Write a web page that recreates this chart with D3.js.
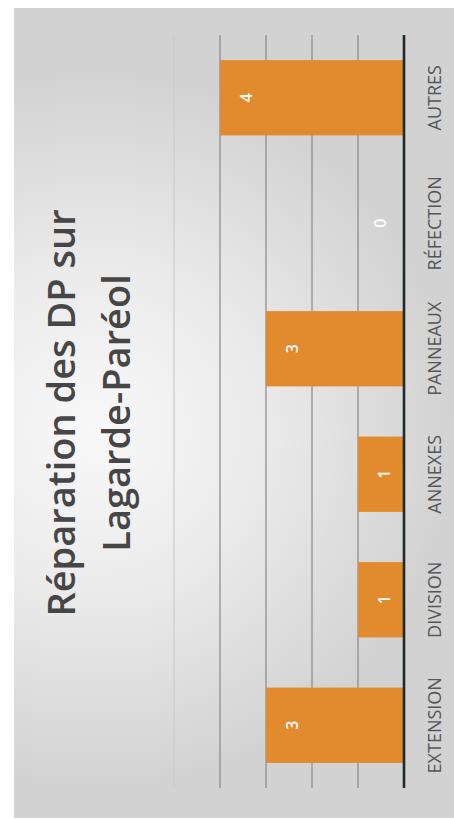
<!DOCTYPE html>
<html>
<head>
<meta charset="utf-8">
<script src="https://cdn.jsdelivr.net/npm/d3@7"></script>
<style>
  html, body { margin: 0; padding: 0; background: #ffffff; }
  svg { display: block; }
</style>
</head>
<body>
<svg id="chart" width="454" height="821"></svg>
<script>
// Déclarations préalables par catégorie de travaux
const categories = ["EXTENSION", "DIVISION", "ANNEXES", "PANNEAUX", "RÉFECTION", "AUTRES"];
const values = [3, 1, 1, 3, 0, 4];
const gridTicks = [1, 2, 3, 4, 5];
const titleLines = ["Réparation des DP sur", "Lagarde-Paréol"];

const svg = d3.select("#chart");
const W = 454, H = 821;

// Page background
const defs = svg.append("defs");
const grad = defs.append("radialGradient")
  .attr("id", "paper")
  .attr("gradientUnits", "userSpaceOnUse")
  .attr("cx", 95).attr("cy", 430).attr("r", 360);
grad.append("stop").attr("offset", "0").attr("stop-color", "#f8f8f8");
grad.append("stop").attr("offset", "0.45").attr("stop-color", "#ebebeb");
grad.append("stop").attr("offset", "1").attr("stop-color", "#d2d2d2");

svg.append("rect").attr("width", W).attr("height", H).attr("fill", "#ffffff");
svg.append("rect")
  .attr("x", 14).attr("y", 8).attr("width", W - 14).attr("height", 810)
  .attr("fill", "url(#paper)");

// The chart is laid out sideways: categories run bottom-to-top, values run right-to-left
const y = d3.scaleBand()
  .domain(categories)
  .range([788, 35])
  .paddingInner(0.4)
  .paddingOuter(0.2);

const x = d3.scaleLinear()
  .domain([0, 5])
  .range([404, 174]);

// Gridlines
svg.append("g")
  .selectAll("line")
  .data(gridTicks)
  .join("line")
  .attr("x1", d => x(d)).attr("x2", d => x(d))
  .attr("y1", 35).attr("y2", 788)
  .attr("stroke", d => d === 5 ? "#cdcdcd" : "#8f8f8f")
  .attr("stroke-width", 1.3);

// Bars
svg.append("g")
  .selectAll("rect")
  .data(categories)
  .join("rect")
  .attr("x", (d, i) => x(values[i]))
  .attr("y", d => y(d))
  .attr("width", (d, i) => x(0) - x(values[i]))
  .attr("height", y.bandwidth())
  .attr("fill", "#e28a2e");

// Category axis line
svg.append("line")
  .attr("x1", x(0)).attr("x2", x(0))
  .attr("y1", 35).attr("y2", 788)
  .attr("stroke", "#1f2b2b")
  .attr("stroke-width", 2.6);

// Value labels inside the bar ends
svg.append("g")
  .selectAll("text")
  .data(categories)
  .join("text")
  .attr("transform", (d, i) => {
    const v = values[i];
    const lx = v > 0 ? x(v) + 26 : x(0) - 24;
    return `translate(${lx},${y(d) + y.bandwidth() / 2}) rotate(-90)`;
  })
  .attr("text-anchor", "middle")
  .attr("dominant-baseline", "central")
  .attr("font-family", "'Open Sans', sans-serif")
  .attr("font-weight", 600)
  .attr("font-size", 16)
  .attr("fill", "#ffffff")
  .text((d, i) => values[i]);

// Category labels
svg.append("g")
  .selectAll("text")
  .data(categories)
  .join("text")
  .attr("transform", d => `translate(434,${y(d) + y.bandwidth() / 2}) rotate(-90)`)
  .attr("text-anchor", "middle")
  .attr("dominant-baseline", "central")
  .attr("font-family", "'Open Sans', sans-serif")
  .attr("font-size", 18)
  .attr("fill", "#565656")
  .text(d => d);

// Title (two lines)
const titleBaselines = [75, 130];
svg.append("g")
  .selectAll("text")
  .data(titleLines)
  .join("text")
  .attr("transform", (d, i) => `translate(${titleBaselines[i]},413) rotate(-90)`)
  .attr("text-anchor", "middle")
  .attr("font-family", "'Open Sans', sans-serif")
  .attr("font-weight", 600)
  .attr("font-size", 38)
  .attr("fill", "#464646")
  .text(d => d);
</script>
</body>
</html>
